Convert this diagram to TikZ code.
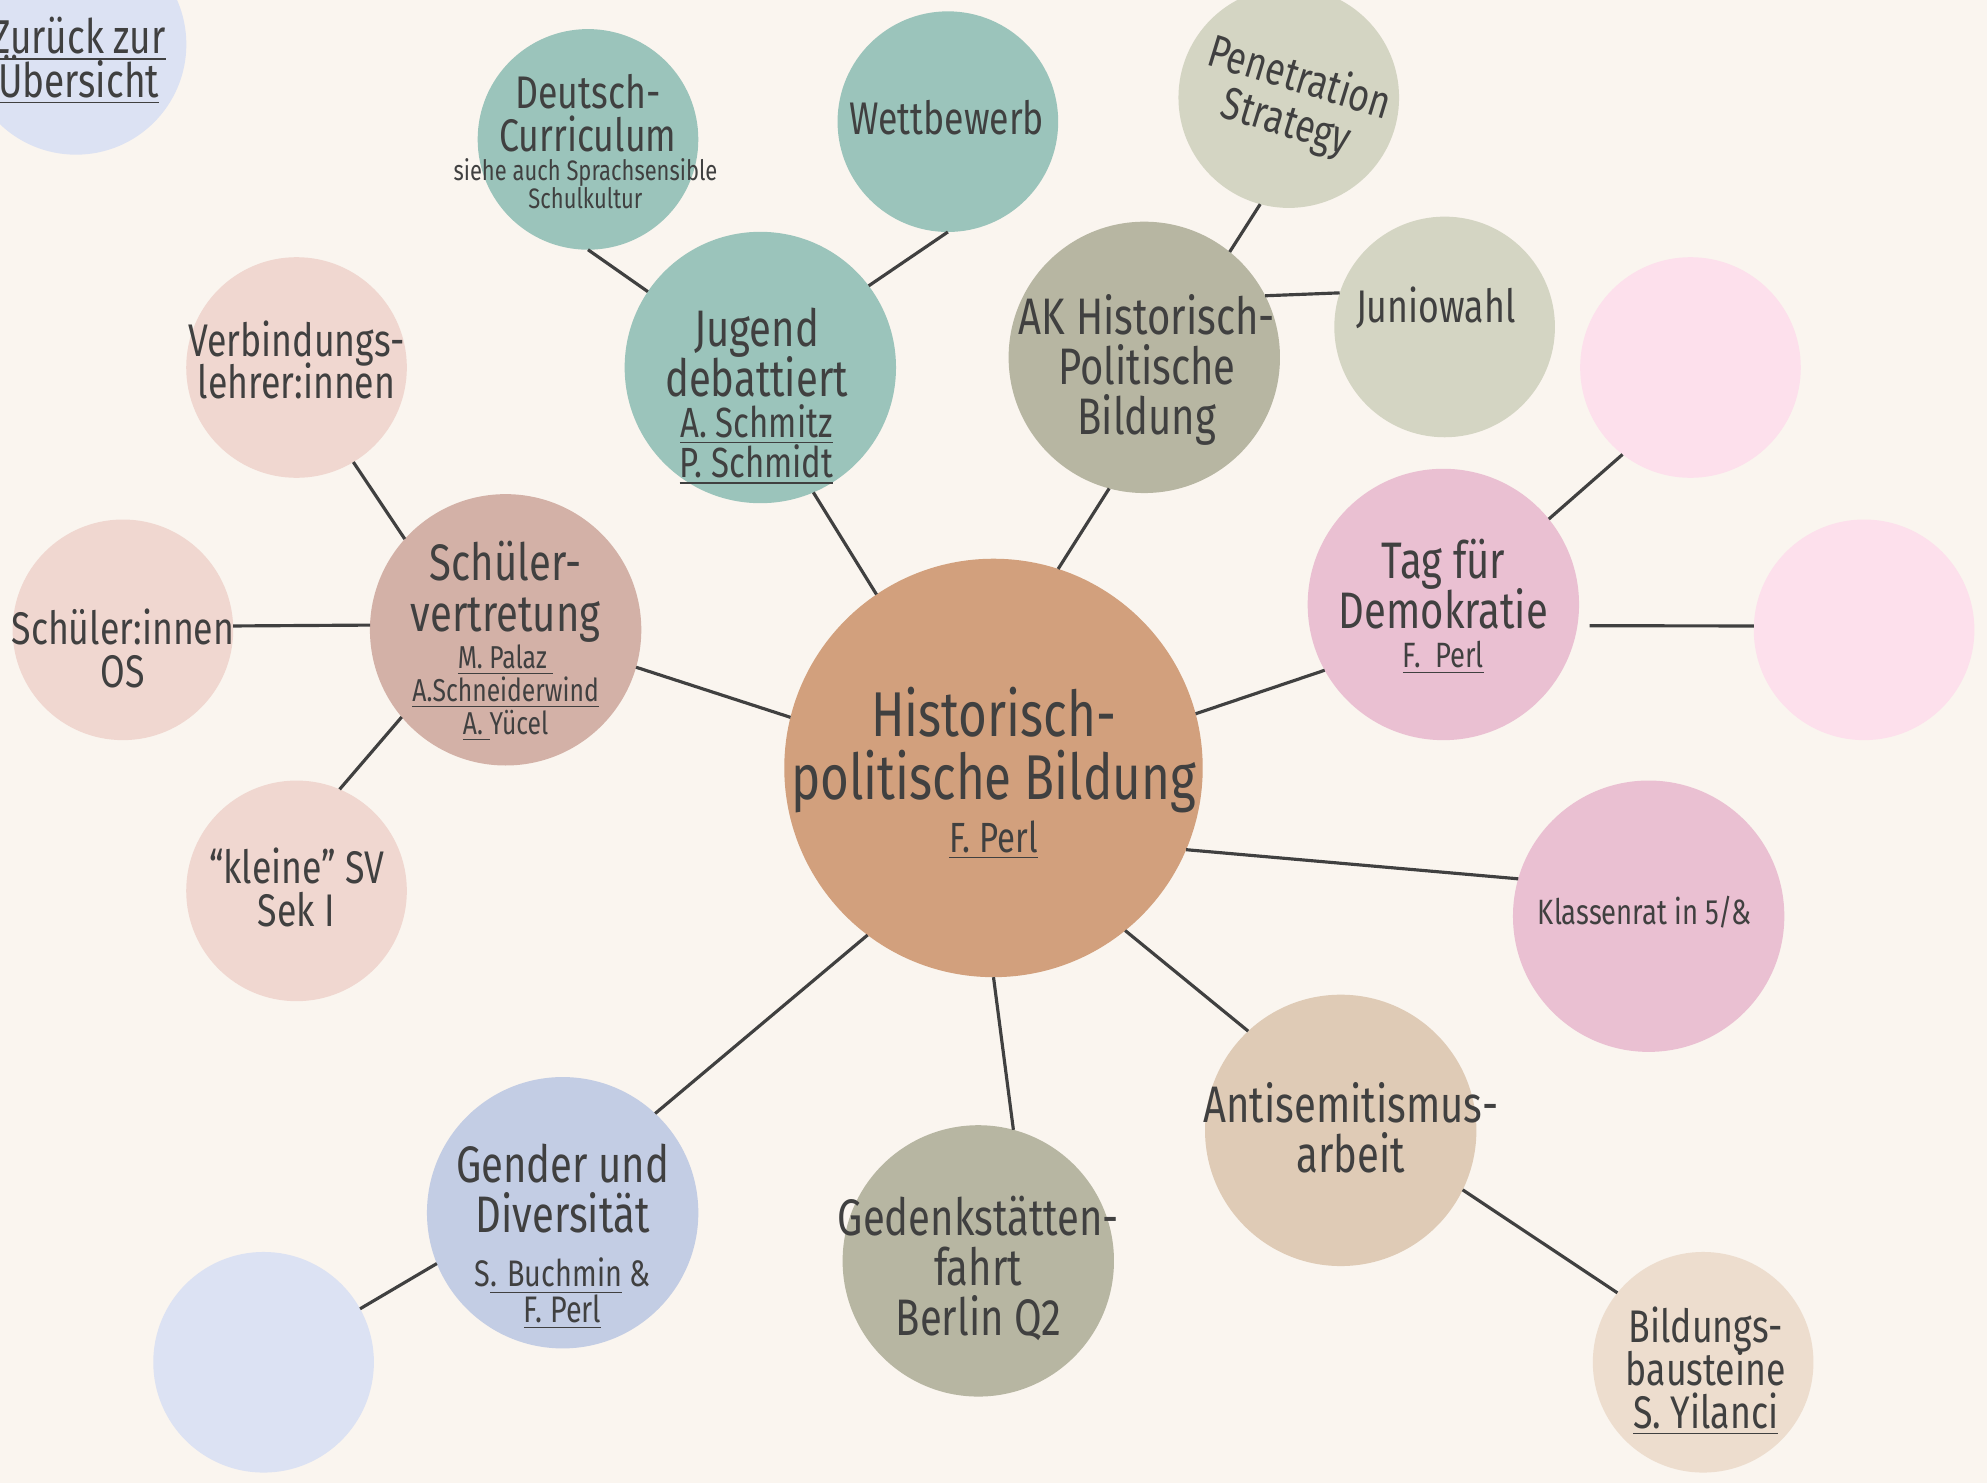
\documentclass[tikz,border=0pt]{standalone}
\usepackage{fontspec}
\setmainfont{Fira Sans}[FakeStretch=0.78]
\usetikzlibrary{positioning}
\setlength{\lineskiplimit}{-20pt}

\definecolor{ink}{RGB}{64,64,64}
\definecolor{cream}{RGB}{250,245,239}
\definecolor{cPeri}{RGB}{220,226,243}
\definecolor{cTeal}{RGB}{155,196,187}
\definecolor{cSage}{RGB}{212,213,195}
\definecolor{cOlive}{RGB}{183,182,162}
\definecolor{cBlush}{RGB}{253,224,236}
\definecolor{cRose}{RGB}{240,215,208}
\definecolor{cMauve}{RGB}{211,177,167}
\definecolor{cTan}{RGB}{210,160,125}
\definecolor{cPink}{RGB}{234,192,210}
\definecolor{cSand}{RGB}{223,203,182}
\definecolor{cLinen}{RGB}{237,221,206}
\definecolor{cBlue}{RGB}{195,205,228}

\begin{document}
\begin{tikzpicture}[x=0.012672cm, y=-0.012672cm,
    bub/.style={circle, inner sep=0pt, outer sep=0pt},
    sml/.style={bub, minimum size=2.205cm},
    mid/.style={bub, minimum size=2.712cm},
    big/.style={bub, minimum size=4.182cm},
    lbl/.style={align=center, text=ink, inner sep=0pt},
    txs/.style={lbl, font=\fontsize{13}{12.2}\selectfont},
    txm/.style={lbl, font=\fontsize{14.6}{14.3}\selectfont},
    txl/.style={lbl, font=\fontsize{18}{18}\selectfont},
    every edge/.style={draw=ink, line width=0.9pt}]

  \useasboundingbox (0,0) rectangle (1568,1170);
  \clip (0,0) rectangle (1568,1170);
  \fill[cream] (0,0) rectangle (1568,1170);

  % bubbles
  \node[sml, fill=cPeri] (back) at (60,35) {};
  \node[sml, fill=cTeal] (deu) at (464,110) {};
  \node[sml, fill=cTeal] (wet) at (748,96) {};
  \node[sml, fill=cSage] (pen) at (1017,77) {};
  \node[mid, fill=cTeal] (jd) at (600,290) {};
  \node[mid, fill=cOlive] (ak) at (903,282) {};
  \node[sml, fill=cSage] (jun) at (1140,258) {};
  \node[sml, fill=cBlush] (pk1) at (1334,290) {};
  \node[sml, fill=cRose] (vbl) at (234,290) {};
  \node[mid, fill=cMauve] (sv) at (399,497) {};
  \node[sml, fill=cRose] (sos) at (97,497) {};
  \node[sml, fill=cRose] (ksv) at (234,703) {};
  \node[big, fill=cTan] (main) at (784,606) {};
  \node[mid, fill=cPink] (tag) at (1139,477) {};
  \node[sml, fill=cBlush] (pk2) at (1471,497) {};
  \node[mid, fill=cPink] (kla) at (1301,723) {};
  \node[mid, fill=cSand] (ant) at (1058,892) {};
  \node[sml, fill=cLinen] (bil) at (1344,1075) {};
  \node[mid, fill=cOlive] (ged) at (772,995) {};
  \node[mid, fill=cBlue] (gen) at (444,957) {};
  \node[sml, fill=cPeri] (emp) at (208,1075) {};

  % connectors
  \path (deu.-90) edge (jd.146);
  \path (wet.-90) edge (jd.37);
  \path (pen.-105) edge (ak.51);
  \path (jun.162) edge (ak.27);
  \path (jd.-67) edge (main.124);
  \path (ak.-105) edge (main.72);
  \path (vbl.-59) edge (sv.138);
  \path (sos.2) edge (sv.178);
  \path (ksv.67) edge (sv.-140);
  \path (sv.-16) edge (main.166);
  \path (pk1.-128) edge (tag.39);
  \path (tag.-9) edge [shorten <=3.5pt] (pk2.178);
  \path (tag.-151) edge (main.15);
  \path (main.-23) edge (kla.164);
  \path (main.-51) edge (ant.133);
  \path (ant.-26) edge (bil.141);
  \path (main.-90) edge (ged.75);
  \path (main.-127) edge (gen.47);
  \path (gen.-158) edge (emp.29);

  % texts
  \node[txs, font=\fontsize{13.5}{12.4}\selectfont] (back-t) at (62,48) {\underline{Zurück zur}\\\underline{Übersicht}};
  \node[txs] (deu-t) at (464,89) {Deutsch-\\Curriculum};
  \node[lbl, font=\fontsize{8}{8}\selectfont] (deu-n) at (462,145) {siehe auch Sprachsensible\\Schulkultur};
  \node[txs] (wet-t) at (747,93) {Wettbewerb};
  \node[txs, rotate=-17, font=\fontsize{13}{13}\selectfont] (pen-t) at (1020,80) {Penetration\\Strategy};
  \node[txm] (jd-t) at (597,278) {Jugend\\debattiert};
  \node[lbl, font=\fontsize{12}{11.5}\selectfont] (jd-n) at (597,351) {\underline{A. Schmitz}\\\underline{P. Schmidt}};
  \node[txm] (ak-t) at (905,292) {AK Historisch-\\Politische\\Bildung};
  \node[txs] (jun-t) at (1133,243) {Juniowahl};
  \node[txs] (vbl-t) at (234,284) {Verbindungs-\\lehrer:innen};
  \node[txm] (sv-t) at (399,467) {Schüler-\\vertretung};
  \node[lbl, font=\fontsize{9}{9.4}\selectfont] (sv-n) at (399,547) {\underline{M. Palaz\ }\\\underline{A.Schneiderwind}\\\underline{A.\ }Yücel};
  \node[txs] (sos-t) at (97,512) {Schüler:innen\\OS};
  \node[txs] (ksv-t) at (234,700) {“kleine” SV\\Sek I};
  \node[txl] (main-t) at (784,592) {Historisch-\\politische Bildung};
  \node[lbl, font=\fontsize{12}{12}\selectfont] (main-n) at (784,663) {\underline{F. Perl}};
  \node[txm] (tag-t) at (1139,461) {Tag für\\Demokratie};
  \node[lbl, font=\fontsize{10}{10}\selectfont] (tag-n) at (1139,519) {\underline{F.\ \ Perl}};
  \node[lbl, font=\fontsize{10}{10}\selectfont] (kla-t) at (1298,720) {Klassenrat in 5/\&};
  \node[txm] (ant-t) at (1066,890) {Antisemitismus-\\arbeit};
  \node[txs] (bil-t) at (1346,1082) {Bildungs-\\bausteine\\\underline{S. Yilanci}};
  \node[txm] (ged-t) at (772,1001) {Gedenkstätten-\\fahrt\\Berlin Q2};
  \node[txm] (gen-t) at (444,938) {Gender und\\Diversität};
  \node[lbl, font=\fontsize{10.5}{10}\selectfont] (gen-n) at (444,1021) {S\underline{. Buchmin} \&\\\underline{F. Perl}};
\end{tikzpicture}
\end{document}
